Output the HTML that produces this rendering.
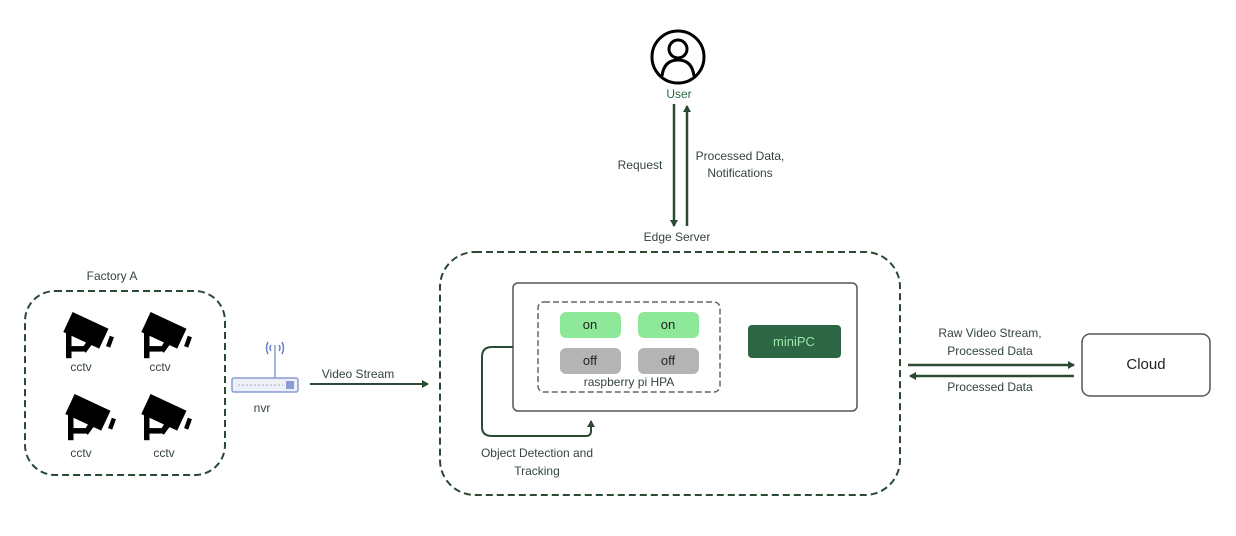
<!DOCTYPE html>
<html><head><meta charset="utf-8"><style>
html,body{margin:0;padding:0;background:#fff;}
svg{display:block;}
text{font-family:"Liberation Sans",sans-serif;fill:#33443a;font-size:12px;text-anchor:middle;}
</style></head><body>
<svg width="1236" height="536" viewBox="0 0 1236 536">
<defs>
<marker id="ah" markerWidth="8" markerHeight="8" refX="6" refY="4" orient="auto" markerUnits="userSpaceOnUse">
<path d="M0,0 L7,4 L0,8 z" fill="#2b4a33"/></marker>
<g id="cam">
<rect x="0" y="0" width="36" height="20" transform="translate(6,0) rotate(25)" fill="#000"/>
<rect x="0" y="18" width="5" height="24" fill="#000"/>
<rect x="0" y="31" width="16" height="5" fill="#000"/>
<path d="M14,34 L22,22 L27,25 L18,37z" fill="#000"/>
<rect x="38" y="22" width="4" height="10" transform="rotate(20 40 27)" fill="#000"/>
</g>
</defs>
<!-- Factory -->
<text x="112" y="280">Factory A</text>
<rect x="25" y="291" width="200" height="184" rx="30" fill="none" stroke="#2b4a33" stroke-width="2" stroke-dasharray="7,4"/>
<use href="#cam" transform="translate(66,312) scale(1.1)"/><use href="#cam" transform="translate(144,312) scale(1.1)"/>
<use href="#cam" transform="translate(68,394) scale(1.1)"/><use href="#cam" transform="translate(144,394) scale(1.1)"/>
<text x="81" y="371">cctv</text><text x="160" y="371">cctv</text>
<text x="81" y="457">cctv</text><text x="164" y="457">cctv</text>
<!-- nvr -->
<line x1="275" y1="345" x2="275" y2="378" stroke="#8a9bd6" stroke-width="1.5"/>
<path d="M268,342 q-3,6 0,12 M282,342 q3,6 0,12 M271,345 q-2,3 0,6 M279,345 q2,3 0,6" stroke="#6d80c8" fill="none" stroke-width="1.5"/>
<rect x="232" y="378" width="66" height="14" rx="2" fill="#eef0f8" stroke="#8a9bd6" stroke-width="1.5"/>
<line x1="238" y1="385" x2="283" y2="385" stroke="#aab" stroke-dasharray="2,2"/>
<rect x="286" y="381" width="8" height="8" fill="#8a9bd6"/>
<text x="262" y="412">nvr</text>
<!-- video stream -->
<line x1="310" y1="384" x2="428" y2="384" stroke="#2b4a33" stroke-width="2" marker-end="url(#ah)"/>
<text x="358" y="378">Video Stream</text>
<!-- edge server -->
<text x="677" y="241">Edge Server</text>
<rect x="440" y="252" width="460" height="243" rx="35" fill="none" stroke="#2b4a33" stroke-width="2" stroke-dasharray="7,4"/>
<rect x="513" y="283" width="344" height="128" rx="5" fill="none" stroke="#555" stroke-width="1.5"/>
<rect x="538" y="302" width="182" height="90" rx="6" fill="none" stroke="#666" stroke-width="1.5" stroke-dasharray="6,3"/>
<rect x="560" y="312" width="61" height="26" rx="6" fill="#8ee89a"/>
<rect x="638" y="312" width="61" height="26" rx="6" fill="#8ee89a"/>
<rect x="560" y="348" width="61" height="26" rx="6" fill="#b4b4b4"/>
<rect x="638" y="348" width="61" height="26" rx="6" fill="#b4b4b4"/>
<text x="590" y="329" style="font-size:13px;fill:#222">on</text>
<text x="668" y="329" style="font-size:13px;fill:#222">on</text>
<text x="590" y="365" style="font-size:13px;fill:#222">off</text>
<text x="668" y="365" style="font-size:13px;fill:#222">off</text>
<text x="629" y="386">raspberry pi HPA</text>
<rect x="748" y="325" width="93" height="33" rx="4" fill="#2d6644"/>
<text x="794" y="346" style="font-size:13px;fill:#9ae6a8">miniPC</text>
<path d="M513,347 L492,347 Q482,347 482,357 L482,427 Q482,436 492,436 L586,436 Q591,436 591,431 L591,421" fill="none" stroke="#2b4a33" stroke-width="2" marker-end="url(#ah)"/>
<text x="537" y="457">Object Detection and</text>
<text x="537" y="475">Tracking</text>
<!-- user -->
<circle cx="678" cy="57" r="26" fill="none" stroke="#000" stroke-width="3"/>
<circle cx="678" cy="49" r="9" fill="none" stroke="#000" stroke-width="3"/>
<path d="M662,76 Q664,60 678,60 Q692,60 694,76" fill="none" stroke="#000" stroke-width="3"/>
<text x="679" y="98" style="fill:#2d6644">User</text>
<line x1="674" y1="104" x2="674" y2="226" stroke="#2b4a33" stroke-width="2.5" marker-end="url(#ah)"/>
<line x1="687" y1="226" x2="687" y2="106" stroke="#2b4a33" stroke-width="2.5" marker-end="url(#ah)"/>
<text x="640" y="169">Request</text>
<text x="740" y="160">Processed Data,</text>
<text x="740" y="177">Notifications</text>
<!-- cloud -->
<line x1="908" y1="365" x2="1074" y2="365" stroke="#2b4a33" stroke-width="2.5" marker-end="url(#ah)"/>
<line x1="1074" y1="376" x2="910" y2="376" stroke="#2b4a33" stroke-width="2.5" marker-end="url(#ah)"/>
<text x="990" y="337">Raw Video Stream,</text>
<text x="990" y="355">Processed Data</text>
<text x="990" y="391">Processed Data</text>
<rect x="1082" y="334" width="128" height="62" rx="8" fill="none" stroke="#555" stroke-width="1.5"/>
<text x="1146" y="369" style="font-size:15px;fill:#222">Cloud</text>
</svg>
</body></html>
